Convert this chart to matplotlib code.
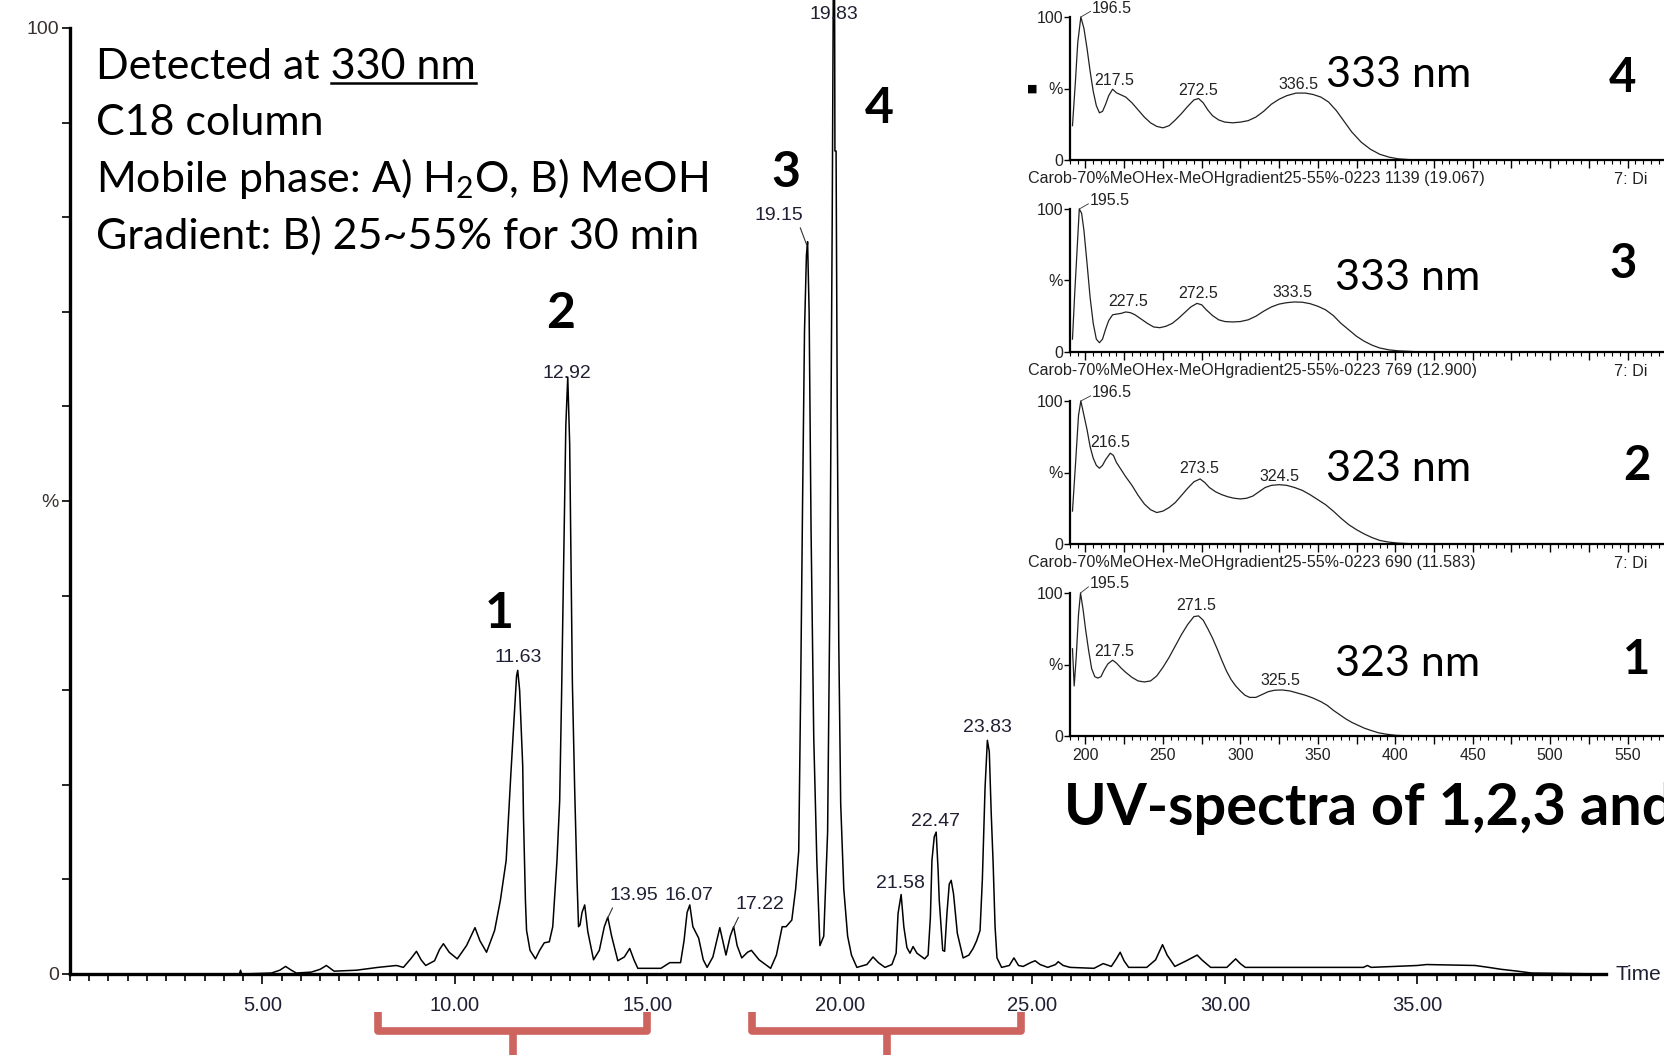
import numpy as np
import matplotlib
matplotlib.use("Agg")
import matplotlib.pyplot as plt
from matplotlib.lines import Line2D
from matplotlib.ticker import MultipleLocator, FuncFormatter
from matplotlib.transforms import blended_transform_factory, IdentityTransform

plt.rcParams['font.family'] = ['Lato', 'DejaVu Sans']
plt.rcParams['mathtext.fontset'] = 'custom'
plt.rcParams['mathtext.rm'] = 'Lato'
plt.rcParams['mathtext.it'] = 'Lato:italic'
plt.rcParams['mathtext.bf'] = 'Lato:bold'

# chromatogram at 330 nm (time in min, intensity in %)
chrom_t = [0.0, 4.40, 4.43, 4.46, 5.23, 5.45, 5.60, 5.75, 5.88, 6.27, 6.50, 6.66,
           6.86, 7.44, 8.00, 8.48, 8.66, 8.85, 9.00, 9.12, 9.24, 9.47, 9.60, 9.70,
           9.85, 10.06, 10.30, 10.52, 10.65, 10.82, 11.03, 11.18, 11.33, 11.39,
           11.45, 11.55, 11.60, 11.63, 11.68, 11.72, 11.76, 11.78, 11.83, 11.86,
           11.95, 12.09, 12.20, 12.32, 12.45, 12.54, 12.65, 12.72, 12.77, 12.83,
           12.88, 12.93, 12.98, 13.03, 13.05, 13.11, 13.17, 13.21, 13.25, 13.30,
           13.37, 13.45, 13.60, 13.75, 13.88, 13.97, 14.07, 14.23, 14.40, 14.54,
           14.65, 14.75, 15.35, 15.58, 15.86, 15.95, 16.03, 16.10, 16.18, 16.33,
           16.45, 16.55, 16.70, 16.88, 17.04, 17.15, 17.24, 17.33, 17.45, 17.60,
           17.70, 17.90, 18.20, 18.35, 18.50, 18.60, 18.75, 18.85, 18.93, 18.98,
           19.03, 19.08, 19.13, 19.16, 19.20, 19.25, 19.32, 19.40, 19.48, 19.58,
           19.68, 19.74, 19.80, 19.83, 19.86, 19.87, 19.90, 19.93, 19.97, 20.02,
           20.10, 20.20, 20.30, 20.44, 20.70, 20.86, 21.00, 21.17, 21.35, 21.46,
           21.51, 21.59, 21.66, 21.74, 21.82, 21.90, 22.00, 22.20, 22.29, 22.35,
           22.39, 22.45, 22.50, 22.55, 22.58, 22.67, 22.72, 22.78, 22.84, 22.89,
           22.95, 23.05, 23.20, 23.35, 23.46, 23.55, 23.64, 23.70, 23.74, 23.77,
           23.83, 23.88, 23.93, 23.98, 24.03, 24.08, 24.20, 24.40, 24.52, 24.64,
           24.76, 24.95, 25.07, 25.20, 25.40, 25.60, 25.67, 25.80, 25.98, 26.60,
           26.84, 27.05, 27.18, 27.28, 27.38, 27.50, 27.97, 28.20, 28.38, 28.50,
           28.70, 29.00, 29.28, 29.40, 29.63, 30.05, 30.28, 30.40, 30.53, 31.50,
           33.60, 33.70, 33.80, 35.00, 35.24, 36.50, 36.85, 37.17, 37.60, 37.97,
           39.90]
chrom_i = [0.0, 0.0, 0.4, 0.0, 0.1, 0.4, 0.8, 0.4, 0.1, 0.2, 0.5, 0.9,
           0.3, 0.4, 0.7, 0.9, 0.7, 1.6, 2.4, 1.5, 0.9, 1.4, 2.6, 3.2,
           2.3, 1.6, 3.0, 4.9, 3.5, 2.3, 4.6, 7.8, 12.0, 16.6,
           21.0, 28.0, 31.5, 32.1, 30.0, 26.0, 22.0, 16.6, 7.8, 4.6,
           2.5, 1.6, 2.5, 3.3, 3.4, 5.0, 12.0, 18.3, 29.6, 45.0,
           58.0, 63.1, 56.0, 38.0, 30.8, 19.5, 10.0, 5.0, 5.2, 6.5,
           7.3, 4.5, 1.5, 2.5, 5.0, 6.0, 4.0, 1.4, 1.8, 2.7,
           1.5, 0.6, 0.6, 1.2, 1.2, 3.5, 6.5, 7.3, 5.0, 3.8,
           1.5, 0.7, 1.8, 4.9, 2.0, 4.0, 5.0, 3.0, 1.7, 2.3,
           2.5, 1.5, 0.6, 2.0, 5.0, 5.0, 5.7, 9.0, 13.0, 30.0,
           50.0, 68.0, 76.0, 77.4, 70.0, 47.0, 25.0, 12.0, 3.0, 4.0,
           15.0, 40.0, 80.0, 106.0, 106.0, 87.0, 87.0, 60.0, 35.0, 18.0,
           9.0, 4.0, 2.0, 0.7, 1.0, 1.8, 1.2, 0.7, 1.0, 2.2,
           6.4, 8.4, 5.0, 2.8, 2.2, 2.9, 2.2, 1.6, 2.0, 6.0,
           12.0, 14.5, 15.0, 11.0, 7.8, 2.5, 2.4, 6.4, 9.5, 9.9,
           8.5, 4.3, 1.7, 2.0, 2.7, 3.5, 4.6, 10.0, 15.5, 19.7,
           24.7, 23.5, 17.0, 11.7, 5.0, 1.7, 0.7, 0.9, 1.7, 0.9,
           0.8, 1.2, 1.4, 1.0, 0.7, 1.0, 1.3, 0.9, 0.7, 0.6,
           1.1, 0.8, 1.6, 2.3, 1.4, 0.7, 0.7, 1.5, 3.1, 2.0,
           0.8, 1.4, 2.0, 1.5, 0.7, 0.7, 1.6, 1.1, 0.7, 0.7,
           0.7, 0.9, 0.7, 0.9, 1.0, 0.9, 0.7, 0.5, 0.3, 0.1,
           0.0]

peak_rt = [11.63, 12.92, 13.95, 16.07, 17.22, 19.15, 19.83, 21.58, 22.47, 23.83]
peak_txt = ['11.63', '12.92', '13.95', '16.07', '17.22', '19.15', '19.83',
            '21.58', '22.47', '23.83']

x_ticklabels = ['5.00', '10.00', '15.00', '20.00', '25.00', '30.00', '35.00']
method_lines = ['Detected at 330 nm', 'C18 column',
                'Mobile phase: A) H$_2$O, B) MeOH',
                'Gradient: B) 25~55% for 30 min']
fractions = [(8.0, 15.0), (17.71, 24.71)]

# UV spectra (wavelength nm, % of max) for compounds 4, 3, 2, 1 (top to bottom)
wl_4 = [191.6, 193.5, 195, 197, 199, 201, 203, 205, 207, 209, 211, 213, 215,
        217.5, 220, 223, 226, 230, 234, 238, 242, 246, 250, 254, 258, 262, 266,
        270, 273, 276, 279, 282, 286, 290, 295, 300, 305, 310, 315, 320, 325,
        330, 336, 342, 347, 352, 357, 362, 367, 372, 378, 384, 390, 396, 402,
        410, 418, 600]
ab_4 = [24, 55, 82, 100, 92, 78, 62, 48, 38, 33, 34, 39, 45,
        49.5, 47, 45.5, 44, 40, 35, 30, 26, 23.5, 22.5, 24, 28, 32.5, 37.5,
        42, 43, 40, 35, 31, 28, 26.5, 26, 26.5, 27.5, 30, 34, 39, 42.5,
        45, 46.8, 46.8, 45.8, 44, 40.5, 34.5, 27, 19.5, 12.5, 7.5, 4, 2, 0.8,
        0.2, 0, 0]
wl_3 = [191.6, 193, 194.5, 196, 197.5, 199, 201, 203, 205, 207, 209, 211, 213,
        215, 217.5, 220, 223, 226, 229, 232, 236, 240, 244, 248, 252, 256, 260,
        264, 268, 272, 275, 278, 282, 286, 290, 295, 300, 305, 310, 315, 320,
        325, 330, 335, 340, 345, 350, 355, 360, 365, 370, 375, 380, 385, 390,
        396, 402, 410, 418, 600]
ab_3 = [9, 40, 70, 100, 97, 85, 62, 38, 20, 9, 6.5, 9, 16,
        22, 26, 26.5, 27, 28, 27.5, 26, 23, 20, 17.5, 17, 18, 20, 23.5,
        27.5, 31.5, 34, 33, 29.5, 25.5, 22.5, 21.3, 21, 21.3, 22.5, 25, 28.5, 31.5,
        33.5, 34.5, 35, 34.8, 33.8, 32, 29.5, 25.5, 20, 15.5, 11, 7.5, 4.8, 2.8,
        1.5, 0.8, 0.4, 0, 0]
wl_2 = [191.6, 193.5, 195.5, 197, 199, 201, 203, 205, 207, 209, 211, 213, 216,
        218, 220, 223, 226, 230, 234, 238, 242, 246, 250, 254, 258, 262, 266,
        270, 274, 277, 280, 284, 288, 292, 296, 300, 304, 308, 312, 316, 320,
        325, 330, 335, 340, 345, 350, 355, 360, 365, 370, 375, 380, 385, 390,
        396, 402, 410, 418, 600]
ab_2 = [23, 55, 90, 100, 90, 80, 68, 60, 55, 53, 55, 59, 63.5,
        62, 57, 52, 47, 41, 34, 28, 24, 22, 23, 25.5, 29, 34, 39,
        43.5, 45.5, 43, 39.5, 36.5, 34.5, 33, 32, 31.5, 32, 33.5, 36.5, 39.5, 41,
        41.5, 41, 39.5, 37.5, 34.5, 31, 27.5, 23, 18, 13.5, 10, 7, 4.5, 2.5,
        1.3, 0.6, 0.2, 0, 0]
wl_1 = [191.6, 192.7, 194, 195.5, 196.8, 198.5, 200, 202, 204, 206, 208, 210,
        212, 214.5, 217.5, 220, 223, 226, 230, 234, 238, 242, 246, 250, 254,
        258, 262, 266, 270, 273, 276, 279, 282, 285, 288, 291, 294, 297, 300,
        303, 306, 310, 314, 318, 322, 327, 332, 337, 342, 347, 352, 356, 360,
        364, 368, 372, 376, 380, 384, 389, 394, 400, 410, 600]
ab_1 = [61, 35, 55, 85, 100, 88, 75, 60, 47, 41.5, 40.5, 41.5,
        46, 50.5, 53, 51, 47.5, 44.5, 41, 38.5, 37.8, 38.5, 42, 48, 55,
        63, 71, 78, 83.5, 84, 81, 75, 68.5, 61, 53, 45.5, 39.5, 35, 31.5,
        28.5, 27, 27, 29, 31, 32, 32.2, 31.5, 30, 28.5, 26.5, 24, 21.5, 18,
        15, 12, 9.5, 7.5, 5.5, 4, 2.3, 1.3, 0.5, 0, 0]

# peak labels: (wavelength text, label x, label y) in data units of each panel
lab_4 = [('196.5', 204.3, 106), ('217.5', 218.7, 55.5), ('272.5', 272.9, 48.5), ('336.5', 337.4, 52.7)]
lab_3 = [('195.5', 202.9, 105.6), ('227.5', 227.7, 35.3), ('272.5', 272.9, 40.9), ('333.5', 333.5, 41.6)]
lab_2 = [('196.5', 204.3, 105.6), ('216.5', 216.1, 71.1), ('273.5', 273.5, 53.1), ('324.5', 325.2, 47.5)]
lab_1 = [('195.5', 202.9, 106.3), ('217.5', 218.7, 59.3), ('271.5', 271.6, 91.3), ('325.5', 325.8, 38.5)]
lam_max = ['333 nm', '333 nm', '323 nm', '323 nm']
compound = ['4', '3', '2', '1']
headers = [None, 'Carob-70%MeOHex-MeOHgradient25-55%-0223 1139 (19.067)',
           'Carob-70%MeOHex-MeOHgradient25-55%-0223 769 (12.900)',
           'Carob-70%MeOHex-MeOHgradient25-55%-0223 690 (11.583)']

W, H = 1665, 1055
fig = plt.figure(figsize=(W / 100, H / 100), dpi=100)


def box(x0, y0, x1, y1):
    # pixel box (top-left origin) -> figure fraction rect
    return [x0 / W, 1 - y1 / H, (x1 - x0) / W, (y1 - y0) / H]


def ftext(x, y, s, **kw):
    return fig.text(x / W, 1 - y / H, s, **kw)


ink = '#202034'
arial = ['Liberation Sans', 'DejaVu Sans']

# ---- main chromatogram ----
ax = fig.add_axes(box(70, 28, 1606, 974))
ax.plot(chrom_t, chrom_i, color='black', lw=1.1, clip_on=False, zorder=3)
ax.set_xlim(0, 39.9)
ax.set_ylim(0, 100)
for s in ['top', 'right']:
    ax.spines[s].set_visible(False)
ax.spines['left'].set_linewidth(2.4)
ax.spines['bottom'].set_linewidth(2.4)
ax.set_yticks([0, 50, 100])
ax.set_yticklabels(['0', '%', '100'])
ax.yaxis.set_minor_locator(MultipleLocator(10))
ax.set_xticks([5, 10, 15, 20, 25, 30, 35])
ax.set_xticklabels(x_ticklabels)
ax.xaxis.set_minor_locator(MultipleLocator(0.5))
ax.tick_params(axis='y', which='both', length=6, width=1.2, pad=2,
               labelsize=14, labelcolor='#3a3030')
ax.tick_params(axis='x', which='major', length=7, width=1.2, pad=9,
               labelsize=14.5, labelcolor=ink)
ax.tick_params(axis='x', which='minor', length=5, width=1.2)
for lab in ax.get_xticklabels() + ax.get_yticklabels():
    lab.set_family(arial)

ax.text(1.006, 0.0, 'Time', transform=ax.transAxes, fontsize=15,
        family=arial, color=ink, va='center', ha='left')

# retention time labels
offsets = {'13.95': (27, 24, (0.1, 0)), '17.22': (27, 24, (0.1, 0)),
           '19.15': (-28, 31, (0.9, 0))}
for rt, txt in zip(peak_rt, peak_txt):
    top = min(np.interp(rt, chrom_t, chrom_i), 100)
    if txt in offsets:
        dx, dy, rp = offsets[txt]
        ax.annotate(txt, (rt, top), xytext=(dx, dy), textcoords='offset pixels',
                    ha='center', va='center', fontsize=14, family=arial, color=ink,
                    annotation_clip=False,
                    arrowprops=dict(arrowstyle='-', lw=0.8, color='#333',
                                    shrinkA=1, shrinkB=1, relpos=rp))
    else:
        dy = 13 if top >= 100 else 13
        ax.annotate(txt, (rt, top), xytext=(0, dy), textcoords='offset pixels',
                    ha='center', va='center', fontsize=14, family=arial,
                    color=ink, annotation_clip=False)

# method text block
text_fs = 31
base_y = [79, 135, 192, 249]
tx = []
for s, by in zip(method_lines, base_y):
    tx.append(ftext(96, by, s, fontsize=text_fs, va='baseline', ha='left'))

# compound numbers on the chromatogram
for s, (cx, by) in zip(['1', '2', '3', '4'], [(499, 628), (561, 328), (786, 187), (879, 123)]):
    ftext(cx, by, s, fontsize=36, fontweight='bold', va='baseline', ha='center')

# red brackets marking collected fractions
red = '#cd645f'
tr = blended_transform_factory(ax.transData, fig.transFigure)
for a, b in fractions:
    y_top, y_bar = 1 - 1012 / H, 1 - 1031 / H
    fig.add_artist(Line2D([a, a, b, b], [y_top, y_bar, y_bar, y_top], transform=tr,
                          color=red, lw=5.5, solid_joinstyle='round',
                          solid_capstyle='butt'))
    m = (a + b) / 2
    fig.add_artist(Line2D([m, m], [y_bar, -0.01], transform=tr, color=red, lw=5.5,
                          solid_capstyle='butt'))

# ---- UV spectra insets ----
panel_tops = [17, 209, 401, 593]
spectra = [(wl_4, ab_4, lab_4), (wl_3, ab_3, lab_3), (wl_2, ab_2, lab_2), (wl_1, ab_1, lab_1)]
nm_pos = [(1326, 87), (1335, 290), (1326, 481), (1335, 676)]
num_pos = [(1609, 92), (1609, 278), (1623, 480), (1623, 674)]
for k, (top, (wl, ab, labs)) in enumerate(zip(panel_tops, spectra)):
    pax = fig.add_axes(box(1070, top, 1705, top + 143))
    pax.patch.set_alpha(0)
    pax.plot(wl, ab, color='#222222', lw=0.9, clip_on=False)
    pax.set_xlim(190, 600)
    pax.set_ylim(0, 100)
    for s in ['top', 'right']:
        pax.spines[s].set_visible(False)
    pax.spines['left'].set_linewidth(1.6)
    pax.spines['bottom'].set_linewidth(1.6)
    pax.set_yticks([0, 50, 100])
    pax.set_yticklabels(['0', '%', '100'])
    pax.xaxis.set_major_locator(MultipleLocator(25))
    pax.xaxis.set_minor_locator(MultipleLocator(5))
    if k == 3:
        pax.xaxis.set_major_formatter(FuncFormatter(
            lambda v, p: '%d' % v if (v % 50 == 0 and v < 580) else ''))
    else:
        pax.set_xticklabels([])
    pax.tick_params(axis='y', length=4, width=1, pad=1, labelsize=11.5,
                    labelcolor='#222')
    pax.tick_params(axis='x', which='major', length=6, width=1, pad=3,
                    labelsize=11.5, labelcolor='#222')
    pax.tick_params(axis='x', which='minor', length=3, width=0.8)
    for lab in pax.get_xticklabels() + pax.get_yticklabels():
        lab.set_family(arial)
    for j, (s, lx, ly) in enumerate(labs):
        if j == 0:
            apex = wl[int(np.argmax(ab))]
            pax.plot([apex, lx - 1.0], [100, ly - 2], color='#333', lw=0.6,
                     clip_on=False)
            pax.text(lx, ly, s, fontsize=11.5, family=arial, color='#222',
                     ha='left', va='center')
        else:
            pax.text(lx, ly, s, fontsize=11.5, family=arial, color='#222',
                     ha='center', va='center')
    ftext(nm_pos[k][0], nm_pos[k][1], lam_max[k], fontsize=text_fs,
          va='baseline', ha='left')
    ftext(num_pos[k][0], num_pos[k][1], compound[k], fontsize=34,
          fontweight='bold', va='baseline', ha='left')
    if headers[k]:
        ftext(1028, top - 30, headers[k], fontsize=11.6, family=arial,
              color='#222', va='center', ha='left')
        ftext(1614, top - 30, '7: Di', fontsize=11.6, family=arial,
              color='#222', va='center', ha='left')

ftext(1032, 89, '\u25a0', fontsize=8, family=['DejaVu Sans'], va='center', ha='center')

ftext(1064, 825, 'UV-spectra of 1,2,3 and 4', fontsize=41.5, fontweight='bold',
      va='baseline', ha='left')

# underline "330 nm"
fig.canvas.draw()
r = fig.canvas.get_renderer()
bb = tx[0].get_window_extent(r)
tmp = fig.text(0, 0, '330 nm', fontsize=text_fs)
w330 = tmp.get_window_extent(r).width
tmp.remove()
uy = H - 83
fig.add_artist(Line2D([bb.x1 - w330, bb.x1], [uy, uy], transform=IdentityTransform(),
                      color='black', lw=1.8))

fig.savefig('out.png', dpi=100)
